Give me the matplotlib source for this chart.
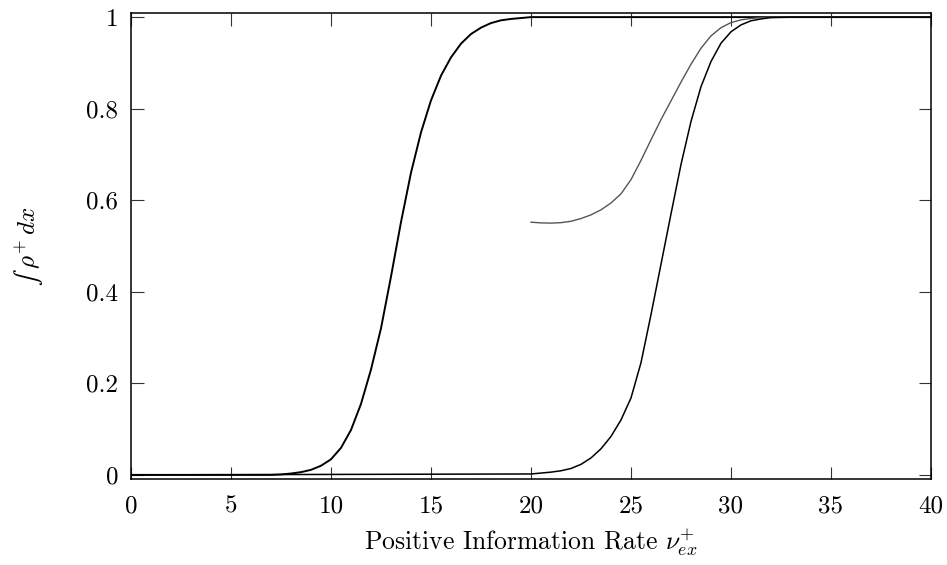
#!/usr/bin/env python3
# -*- coding: utf-8 -*-

import matplotlib
matplotlib.use("Agg")
import matplotlib.pyplot as plt

###############################################################################
# Data
###############################################################################

# first transition (left sigmoid)
x_low = [0, 7, 7.5, 8, 8.5, 9, 9.5, 10, 10.5, 11, 11.5, 12, 12.5, 13, 13.5,
         14, 14.5, 15, 15.5, 16, 16.5, 17, 17.5, 18, 18.5, 19, 19.5, 20, 40]
y_low = [0.0, 0.0, 0.001, 0.003, 0.006, 0.011, 0.020, 0.034, 0.059, 0.098,
         0.155, 0.230, 0.320, 0.433, 0.552, 0.660, 0.748, 0.818, 0.872,
         0.912, 0.942, 0.963, 0.977, 0.987, 0.993, 0.996, 0.998, 1.0, 1.0]

# branch starting at nu = 20 from a finite value
x_mid = [20, 20.5, 21, 21.5, 22, 22.5, 23, 23.5, 24, 24.5, 25, 25.5, 26,
         26.5, 27, 27.5, 28, 28.5, 29, 29.5, 30, 30.5, 31, 31.5, 32, 40]
y_mid = [0.552, 0.5505, 0.550, 0.551, 0.554, 0.560, 0.568, 0.579, 0.594,
         0.614, 0.645, 0.687, 0.732, 0.776, 0.817, 0.858, 0.897, 0.932,
         0.959, 0.977, 0.988, 0.994, 0.997, 0.999, 1.0, 1.0]

# second transition (right sigmoid)
x_high = [0, 20, 21, 21.5, 22, 22.5, 23, 23.5, 24, 24.5, 25, 25.5, 26, 26.5,
          27, 27.5, 28, 28.5, 29, 29.5, 30, 30.5, 31, 31.5, 32, 33, 40]
y_high = [0.0, 0.002, 0.006, 0.009, 0.014, 0.023, 0.037, 0.057, 0.084, 0.120,
          0.168, 0.245, 0.350, 0.460, 0.570, 0.678, 0.772, 0.848, 0.903,
          0.943, 0.968, 0.983, 0.992, 0.996, 0.999, 1.0, 1.0]

x_ticks = [0, 5, 10, 15, 20, 25, 30, 35, 40]
y_ticks = [0, 0.2, 0.4, 0.6, 0.8, 1]
y_tick_labels = ["0", "0.2", "0.4", "0.6", "0.8", "1"]

###############################################################################
# Plot
###############################################################################

plt.rcParams["font.family"] = "serif"
plt.rcParams["font.serif"] = ["cmr10"]
plt.rcParams["mathtext.fontset"] = "cm"
plt.rcParams["axes.unicode_minus"] = False

fig = plt.figure(figsize=(9.47, 5.65), dpi=100)
ax = fig.add_axes([0.1383, 0.1522, 0.8448, 0.8248])

ax.plot(x_low, y_low, color="black", lw=1.4)
ax.plot(x_mid, y_mid, color="#555555", lw=1.0)
ax.plot(x_high, y_high, color="black", lw=1.1)

ax.set_xlim(0, 40)
ax.set_ylim(-0.009, 1.009)
ax.set_xticks(x_ticks)
ax.set_xticklabels([str(v) for v in x_ticks])
ax.set_yticks(y_ticks)
ax.set_yticklabels(y_tick_labels)

ax.tick_params(direction="in", length=9, width=0.8, color="#333333",
               top=True, right=True, labelsize=18)
ax.tick_params(axis="x", pad=12)
ax.tick_params(axis="y", pad=9)
for sp in ax.spines.values():
    sp.set_linewidth(1.1)

ax.set_xlabel(r"Positive Information Rate $\nu_{ex}^{+}$", fontsize=18.5, labelpad=6)
# text-style (slanted) integral sign from STIX, the rest in math mode
ax.set_ylabel("\u222b $\\rho^{+}\\,dx$", fontsize=18, labelpad=30,
              family="STIXGeneral")

fig.savefig("out.png", dpi=100)
plt.close(fig)
